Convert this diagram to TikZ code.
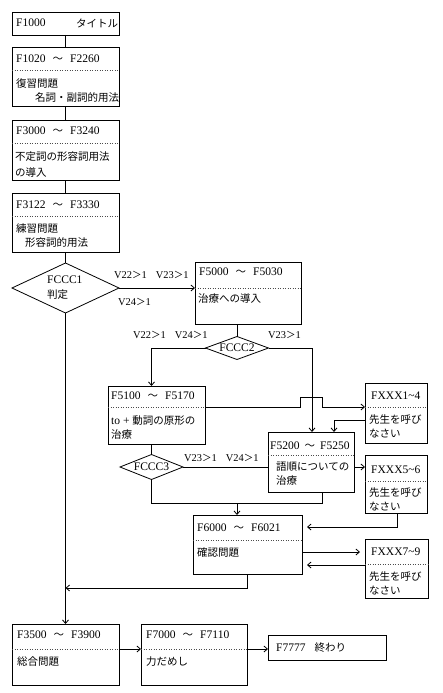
\documentclass[tikz,border=0pt]{standalone}
\usepackage{fontspec}
\setmainfont[Scale=1.1]{Liberation Serif}
\newfontfamily\jp{Noto Sans CJK JP}
\usetikzlibrary{arrows.meta,shapes.geometric}
\newcommand\J[1]{{\jp #1}}
\newcommand\GTsym{{\jp ＞}}
\newcommand\TLsym{\hspace{7pt}{\jp 〜}\hspace{7pt}}
\newcommand\TLsmall{\hspace{5pt}{\jp 〜}\hspace{5pt}}
\begin{document}
\begin{tikzpicture}[x=1pt,y=-1pt,
 box/.style={draw, line width=0.8pt, inner sep=0pt, outer sep=0pt, anchor=north west},
 dia/.style={draw, line width=0.8pt, diamond, inner sep=0pt, outer sep=0pt},
 txt/.style={anchor=west, inner sep=0pt, font=\fontsize{10.5}{12}\selectfont},
 lbl/.style={anchor=west, inner sep=0pt, font=\fontsize{9.5}{12}\selectfont},
 dotl/.style={dotted, line width=0.5pt, black!70},
 ln/.style={line width=0.8pt},
 arr/.style={line width=0.8pt, -{Straight Barb[length=3.5pt,width=6pt]}},
]
\useasboundingbox (0,0) rectangle (442,693);
% boxes
\node[box, minimum width=107pt, minimum height=23pt] (b1) at (12,12) {};
\node[box, minimum width=107pt, minimum height=59pt] (b2) at (12,47) {};
\node[box, minimum width=107pt, minimum height=60pt] (b3) at (12,120) {};
\node[box, minimum width=107pt, minimum height=59pt] (b4) at (12,193) {};
\node[box, minimum width=106pt, minimum height=62pt] (b5) at (195,262) {};
\node[box, minimum width=97pt, minimum height=58pt] (b6) at (108,386) {};
\node[box, minimum width=86pt, minimum height=60pt] (b7) at (268,432) {};
\node[box, minimum width=109pt, minimum height=59pt] (b8) at (193,515) {};
\node[box, minimum width=107pt, minimum height=61pt] (b9) at (12,624) {};
\node[box, minimum width=106pt, minimum height=61pt] (b10) at (141,624) {};
\node[box, minimum width=118pt, minimum height=25pt] (b11) at (268,635) {};
\node[box, minimum width=62pt, minimum height=60pt] (fx1) at (365,383) {};
\node[box, minimum width=62pt, minimum height=58pt] (fx5) at (365,455) {};
\node[box, minimum width=63pt, minimum height=59pt] (fx7) at (365,539) {};
% diamonds
\node[dia, minimum width=107pt, minimum height=50pt, shape aspect=2.14] (d1) at (65.5,288) {};
\node[dia, minimum width=63pt, minimum height=23pt, shape aspect=2.7] (d2) at (237,348) {};
\node[dia, minimum width=63pt, minimum height=25pt, shape aspect=2.5] (d3) at (151.5,467) {};
% dotted dividers
\draw[dotl] (b2.west |- 0,70) -- (b2.east |- 0,70);
\draw[dotl] (b3.west |- 0,143) -- (b3.east |- 0,143);
\draw[dotl] (b4.west |- 0,216) -- (b4.east |- 0,216);
\draw[dotl] (b5.west |- 0,288) -- (b5.east |- 0,288);
\draw[dotl] (b6.west |- 0,407) -- (b6.east |- 0,407);
\draw[dotl] (b7.west |- 0,455) -- (b7.east |- 0,455);
\draw[dotl] (b8.west |- 0,540) -- (b8.east |- 0,540);
\draw[dotl] (b9.west |- 0,649) -- (b9.east |- 0,649);
\draw[dotl] (b10.west |- 0,649) -- (b10.east |- 0,649);
\draw[dotl] (fx1.west |- 0,407) -- (fx1.east |- 0,407);
\draw[dotl] (fx5.west |- 0,481) -- (fx5.east |- 0,481);
\draw[dotl] (fx7.west |- 0,564) -- (fx7.east |- 0,564);
% texts
\node[txt] (t1a) at (16,23) {F1000};
\node[txt] (t1b) at (76,23) {\J{タイトル}};
\node[txt] (t2a) at (16,59) {F1020\TLsym F2260};
\node[txt] (t2b) at (16,84) {\J{復習問題}};
\node[txt] (t2c) at (35,98) {\J{名詞・副詞的用法}};
\node[txt] (t3a) at (16,131) {F3000\TLsym F3240};
\node[txt] (t3b) at (15,157) {\J{不定詞の形容詞用法}};
\node[txt] (t3c) at (15,172) {\J{の導入}};
\node[txt] (t4a) at (16,205) {F3122\TLsym F3330};
\node[txt] (t4b) at (16,229) {\J{練習問題}};
\node[txt] (t4c) at (25,243) {\J{形容詞的用法}};
\node[txt] (t5a) at (199,272) {F5000\TLsym F5030};
\node[txt] (t5b) at (198,299) {\J{治療への導入}};
\node[txt] (t6a) at (111,396) {F5100\TLsym F5170};
\node[txt] (t6b) at (111,421) {to + \J{動詞の原形の}};
\node[txt] (t6c) at (111,435) {\J{治療}};
\node[txt] (t7a) at (270,446) {F5200\TLsmall F5250};
\node[txt] (t7b) at (276,467) {\J{語順についての}};
\node[txt] (t7c) at (276,481) {\J{治療}};
\node[txt] (t8a) at (197,528) {F6000\TLsym F6021};
\node[txt] (t8b) at (197,553) {\J{確認問題}};
\node[txt] (t9a) at (17,635) {F3500\TLsym F3900};
\node[txt] (t9b) at (17,662) {\J{総合問題}};
\node[txt] (t10a) at (146,635) {F7000\TLsym F7110};
\node[txt] (t10b) at (146,662) {\J{力だめし}};
\node[txt] (t11) at (276,648) {F7777\hspace{9pt}\J{終わり}};
\node[txt] (f1a) at (371,396) {FXXX1\textasciitilde 4};
\node[txt] (f1b) at (369,420) {\J{先生を呼び}};
\node[txt] (f1c) at (369,434) {\J{なさい}};
\node[txt] (f5a) at (371,470) {FXXX5\textasciitilde 6};
\node[txt] (f5b) at (369,493) {\J{先生を呼び}};
\node[txt] (f5c) at (369,507) {\J{なさい}};
\node[txt] (f7a) at (371,552) {FXXX7\textasciitilde 9};
\node[txt] (f7b) at (369,577) {\J{先生を呼び}};
\node[txt] (f7c) at (369,591) {\J{なさい}};
\node[txt] (dt1a) at (47,280) {FCCC1};
\node[txt] (dt1b) at (47,295) {\J{判定}};
\node[txt, anchor=center] (dt2) at (d2) {FCCC2};
\node[txt, anchor=center] (dt3) at (d3) {FCCC3};
% edge labels
\node[lbl] (l1) at (114,275) {V22\GTsym 1\hspace{9pt}V23\GTsym 1};
\node[lbl] (l2) at (118,302) {V24\GTsym 1};
\node[lbl] (l3) at (133,335) {V22\GTsym 1\hspace{9pt}V24\GTsym 1};
\node[lbl] (l4) at (268,335) {V23\GTsym 1};
\node[lbl] (l5) at (184,458) {V23\GTsym 1\hspace{9pt}V24\GTsym 1};
% connectors
\draw[ln] (b1) -- (b2);
\draw[ln] (b2) -- (b3);
\draw[ln] (b3) -- (b4);
\draw[ln] (b4) -- (d1);
\draw[arr] (d1.east) -- (d1.east -| b5.west);
\draw[arr] (d1.south) -- (b9.north);
\draw[ln] (d2.north |- b5.south) -- (d2.north);
\coordinate (k1) at (151.5,386);
\draw[arr] (d2.west) -| (k1);
\coordinate (k2) at (312,432);
\draw[arr] (d2.east) -| (k2);
\draw[arr] (b6.east |- 0,407) -- (300,407) -- (300,397) -- (322,397) -- (322,407) -- (fx1.west |- 0,407);
\coordinate (k3) at (334,432);
\draw[arr] (fx1.west |- 0,420) -| (k3);
\draw[ln] (d3.north |- b6.south) -- (d3.north);
\draw[ln] (d3.east) -- (d3.east -| b7.west);
\draw[arr] (b7.east |- 0,467) -- (fx5.west |- 0,467);
\coordinate (k4) at (322,492);
\draw[ln] (d3.south) -- (151.5,503) -- (322,503) -- (k4);
\coordinate (k5) at (237,503);
\draw[arr] (k5) -- (k5 |- b8.north);
\draw[arr, shorten >=5pt] (fx5.south -| 397,0) -- (397,527) -- (b8.east |- 0,527);
\draw[arr, shorten >=5pt] (b8.east |- 0,552) -- (fx7.west |- 0,552);
\draw[arr, shorten >=5pt] (fx7.west |- 0,565) -- (b8.east |- 0,565);
\coordinate (m1) at (65.5,588);
\draw[arr] (b8.south -| 247,0) -- (247,588) -- (m1);
\draw[arr] (b9.east |- 0,649) -- (b10.west |- 0,649);
\draw[arr] (b10.east |- 0,649) -- (b11.west |- 0,649);
\end{tikzpicture}
\end{document}
